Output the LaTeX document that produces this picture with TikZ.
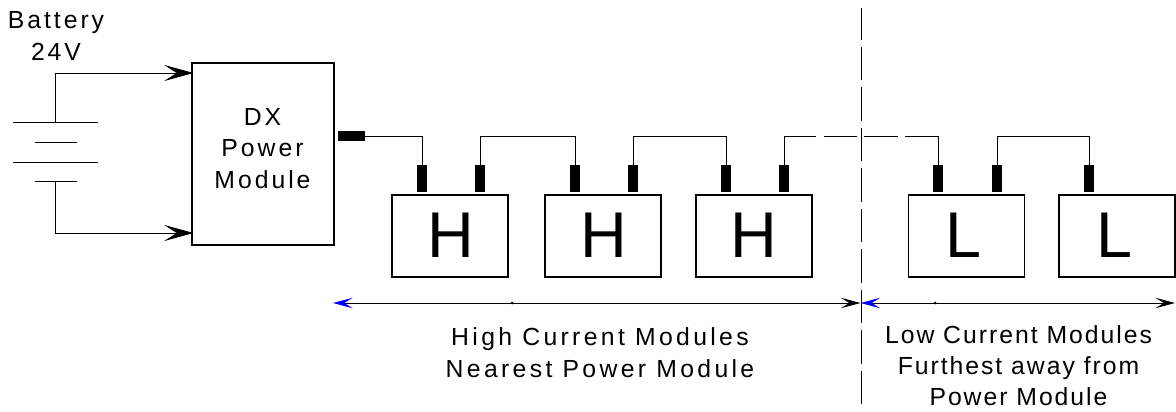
\documentclass[tikz,border=0pt]{standalone}
\usepackage{fontspec}
\setmainfont[LetterSpace=12]{Liberation Sans}
\newfontfamily\highfont[LetterSpace=13.5]{Liberation Sans}
\newfontfamily\lowfont[LetterSpace=8]{Liberation Sans}
\usetikzlibrary{arrows.meta}

\tikzset{
	wire/.style={line width=.7pt},
	modbox/.style={draw,line width=.8pt,minimum width=82.5pt,minimum height=58.3pt,inner sep=0pt},
	pwrbox/.style={draw,line width=.8pt,minimum width=101pt,minimum height=129.5pt,inner sep=0pt},
	term/.style={fill=black,minimum width=7.1pt,minimum height=19.2pt,inner sep=0pt},
	bigletter/.style={font=\fontsize{46}{46}\selectfont,inner sep=0pt},
	lbl/.style={font=\fontsize{17.6}{22.2}\selectfont,align=center,inner sep=0pt},
	highlbl/.style={font=\highfont\fontsize{17.6}{22.6}\selectfont,align=center,inner sep=0pt},
	lowlbl/.style={font=\lowfont\fontsize{17.6}{22}\selectfont,align=center,inner sep=0pt},
	inarrow/.style={wire,shorten >=-1.5pt,-{Stealth[length=21pt,width=11.5pt,inset=9pt]}},
	spanarrow/.style={wire,{Stealth[length=14pt,width=7.5pt,inset=6pt,color=blue]}-{Stealth[length=14pt,width=7.5pt,inset=6pt]}},
}

\begin{document}
\begin{tikzpicture}[x=.025cm,y=-.025cm]

	\useasboundingbox (0,0) rectangle (1176,412);

	\coordinate (batp) at (55,122);
	\coordinate (batn) at (55,181);
	\coordinate (cut) at (861,8);
	\coordinate (cutend) at (861,404);

	\draw[wire] (13,122) -- (98,122);
	\draw[wire] (35,142) -- (77,142);
	\draw[wire] (13,162) -- (98,162);
	\draw[wire] (35,181) -- (77,181);

	\node[pwrbox] (pwr) at (263,154) {};
	\node[lbl] (pwrtxt) at (262.5,148.5) {DX\\Power\\Module};
	\node[lbl] (battxt) at (56,36) {Battery\\24V};

	\draw[inarrow] (batp) |- (pwr.west |- 0,73);
	\draw[inarrow] (batn) |- (pwr.west |- 0,233);

	\node[modbox] (h1) at (450,236) {};
	\node[modbox] (h2) at (603,236) {};
	\node[modbox] (h3) at (754,236) {};
	\node[modbox] (l1) at (966.5,236) {};
	\node[modbox] (l2) at (1117,236) {};

	\node[bigletter] (h1txt) at (451,235) {H};
	\node[bigletter] (h2txt) at (604,235) {H};
	\node[bigletter] (h3txt) at (754,235) {H};
	\node[bigletter] (l1txt) at (963.5,235) {L};
	\node[bigletter] (l2txt) at (1114,235) {L};

	\node[term,minimum width=19.2pt,minimum height=7.1pt] (out) at (351.5,136) {};
	\node[term] (a1) at (422,178.5) {};
	\node[term] (a2) at (480,178.5) {};
	\node[term] (b1) at (575,178.5) {};
	\node[term] (b2) at (633,178.5) {};
	\node[term] (c1) at (726,178.5) {};
	\node[term] (c2) at (784,178.5) {};
	\node[term] (d1) at (938,178.5) {};
	\node[term] (d2) at (997,178.5) {};
	\node[term] (e1) at (1089,178.5) {};

	\draw[wire] (out) -| (a1.north);
	\draw[wire] (a2.north) |- (b1.north |- out) -- (b1.north);
	\draw[wire] (b2.north) |- (c1.north |- out) -- (c1.north);
	\draw[wire,dash pattern=on 43.4pt off 5.7pt on 23.5pt off 5pt on 24.2pt off 5pt on 44pt off 5pt]
		(c2.north) |- (d1.north |- out) -- (d1.north);
	\draw[wire] (d2.north) |- (e1.north |- out) -- (e1.north);

	\draw[wire,dash pattern=on 23.5pt off 5.3pt] (cutend) -- (cut);

	\coordinate (spanl) at (333,303);
	\coordinate (spanm) at (860.5,303);
	\coordinate (spanr) at (1175,303);

	\draw[spanarrow] (spanl) -- (spanm);
	\draw[spanarrow] (spanm) -- (spanr);
	\fill (512,303) circle (1.5);
	\fill (935,303) circle (1.5);

	\node[highlbl] (hightxt) at (600,353) {High Current Modules\\Nearest Power Module};
	\node[lowlbl] (lowtxt) at (1018.5,366) {Low Current Modules\\Furthest away from\\Power Module};

\end{tikzpicture}
\end{document}
